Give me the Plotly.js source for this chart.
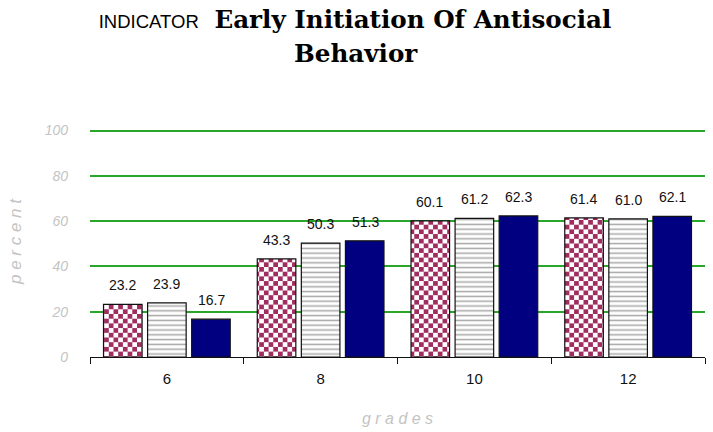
<!DOCTYPE html>
<html>
<head>
<meta charset="utf-8">
<script src="https://cdn.plot.ly/plotly-3.0.1.min.js"></script>
<style>
  html, body { margin: 0; padding: 0; background: #fff; }
  #chart { width: 713px; height: 432px; }
</style>
</head>
<body>
<div id="chart"></div>
<script>
// Grades surveyed and the three survey series (percent)
const grades = ['6', '8', '10', '12'];
const seriesA = [23.2, 43.3, 60.1, 61.4];
const seriesB = [23.9, 50.3, 61.2, 61.0];
const seriesC = [16.7, 51.3, 62.3, 62.1];
const yTicks = [0, 20, 40, 60, 80, 100];

const allSeries = [seriesA, seriesB, seriesC];
const labelFont = { family: 'Liberation Sans, Arial, sans-serif', size: 14, color: '#111' };
const maroon = '#a02d60';
const grey = '#c4c4c4';

function barTrace(values, marker) {
  return {
    type: 'bar',
    x: grades,
    y: values,
    hoverinfo: 'none',
    marker: Object.assign({ line: { color: '#111', width: 1.2 } }, marker)
  };
}

const traces = [
  barTrace(seriesA, { color: maroon, pattern: { shape: '+', fgcolor: maroon, bgcolor: '#ffffff', size: 9.4, solidity: 0.5 } }),
  barTrace(seriesB, { color: '#ffffff', pattern: { shape: '-', fgcolor: '#a8a8a8', bgcolor: '#ffffff', size: 4.8, solidity: 0.32 } }),
  barTrace(seriesC, { color: '#000080' })
];

// Value labels floating above each bar, shifted to its slot within the group
// (category axis: x is given as the category index)
const slotPx = 44.5;
const valueLabels = [];
allSeries.forEach((vals, i) => {
  vals.forEach((v, j) => {
    valueLabels.push({
      x: j, y: v, xref: 'x', yref: 'y',
      text: v.toFixed(1),
      font: labelFont,
      showarrow: false,
      xanchor: 'center', yanchor: 'middle',
      xshift: (i - 1) * slotPx,
      yshift: 19
    });
  });
});

const titleFont = { family: 'DejaVu Serif, Liberation Serif, serif', size: 24.6, color: '#000' };

const layout = {
  width: 713,
  height: 432,
  margin: { l: 90, r: 8, t: 126, b: 75 },
  paper_bgcolor: '#ffffff',
  plot_bgcolor: '#ffffff',
  showlegend: false,
  barmode: 'group',
  bargap: 0.14,
  bargroupgap: 0.125,
  title: {
    text: '<span style="font-family:\'Liberation Sans\', Arial, sans-serif;font-size:18.5px;font-weight:normal">INDICATOR</span>  <b>Early Initiation Of Antisocial</b>',
    font: titleFont,
    xref: 'container', yref: 'container',
    x: 355 / 713, xanchor: 'center',
    y: 1 - 19 / 432, yanchor: 'middle'
  },
  annotations: valueLabels.concat([{
    text: '<b>Behavior</b>',
    font: titleFont,
    xref: 'paper', yref: 'paper',
    x: (356 - 90) / 615, y: 1 + (126 - 54) / 231,
    xanchor: 'center', yanchor: 'middle',
    showarrow: false
  }]),
  xaxis: {
    type: 'category',
    range: [-0.5, 3.5],
    showgrid: false,
    showline: true,
    linecolor: '#111',
    linewidth: 1.3,
    ticks: 'outside',
    tickson: 'boundaries',
    ticklen: 6,
    tickcolor: '#111',
    ticklabelstandoff: 8,
    tickfont: { family: 'Liberation Sans, Arial, sans-serif', size: 15, color: '#111' },
    title: {
      text: 'g r a d e s',
      font: { family: 'Liberation Sans, Arial, sans-serif', size: 16, color: grey, style: 'italic' },
      standoff: 26
    }
  },
  yaxis: {
    range: [0, 102],
    tickvals: yTicks,
    showgrid: true,
    gridcolor: '#2aa62a',
    gridwidth: 2,
    zeroline: false,
    showline: false,
    ticks: '',
    ticklabelstandoff: 21,
    tickfont: { family: 'Liberation Sans, Arial, sans-serif', size: 14, color: grey, style: 'italic' },
    title: {
      text: 'p e r c e n t',
      font: { family: 'Liberation Sans, Arial, sans-serif', size: 17, color: grey, style: 'italic' },
      standoff: 18
    }
  }
};

// Turn the first series' fill into a checkerboard
function applyChecker(gd) {
  const svg = gd.querySelector('svg.main-svg');
  if (!svg) return;
  const defs = svg.querySelector('defs');
  const ns = 'http://www.w3.org/2000/svg';
  const cell = 4.7;
  if (!svg.querySelector('#checker-fill')) {
    const pat = document.createElementNS(ns, 'pattern');
    pat.setAttribute('id', 'checker-fill');
    pat.setAttribute('patternUnits', 'userSpaceOnUse');
    pat.setAttribute('width', 2 * cell);
    pat.setAttribute('height', 2 * cell);
    const cells = [['#ffffff', 0, 0, 2 * cell, 2 * cell], [maroon, 0, 0, cell, cell], [maroon, cell, cell, cell, cell]];
    cells.forEach(c => {
      const r = document.createElementNS(ns, 'rect');
      r.setAttribute('fill', c[0]);
      r.setAttribute('x', c[1]); r.setAttribute('y', c[2]);
      r.setAttribute('width', c[3]); r.setAttribute('height', c[4]);
      pat.appendChild(r);
    });
    defs.appendChild(pat);
  }
  const firstTrace = gd.querySelector('.barlayer .trace.bars');
  if (firstTrace) {
    firstTrace.querySelectorAll('.point path').forEach(p => {
      p.style.fill = 'url(#checker-fill)';
      p.setAttribute('fill', 'url(#checker-fill)');
    });
  }
}

const gd = document.getElementById('chart');
Plotly.newPlot(gd, traces, layout, { displayModeBar: false, staticPlot: true }).then(() => {
  applyChecker(gd);
  gd.on('plotly_afterplot', () => applyChecker(gd));
});
</script>
</body>
</html>
